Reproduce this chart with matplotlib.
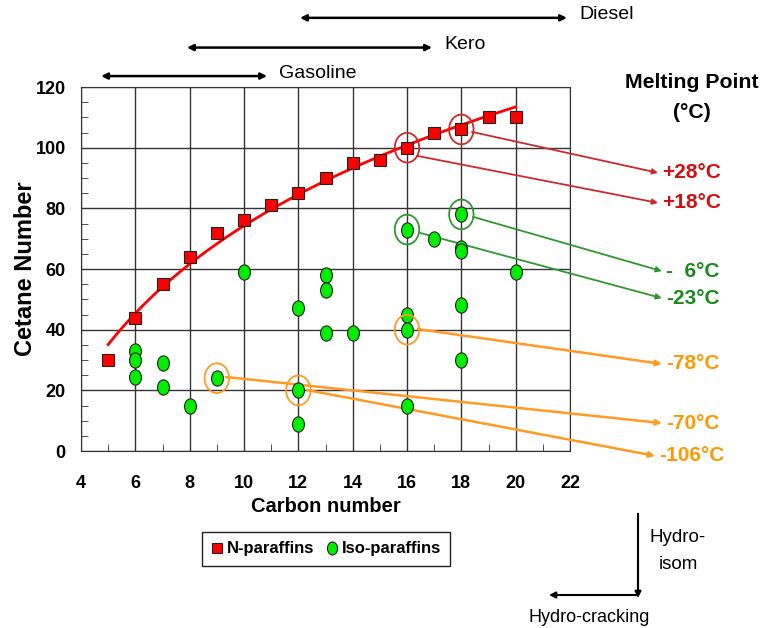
import numpy as np
import matplotlib.pyplot as plt
from matplotlib.patches import Ellipse
from matplotlib.path import Path
from matplotlib.transforms import Affine2D
from matplotlib.ticker import MultipleLocator

plt.rcParams['font.family'] = ['Liberation Sans', 'DejaVu Sans']

# N-paraffins (carbon number, cetane number)
n_carbon = [5, 6, 7, 8, 9, 10, 11, 12, 13, 14, 15, 16, 17, 18, 19, 20]
n_cetane = [30, 44, 55, 64, 72, 76, 81, 85, 90, 95, 96, 100, 105, 106, 110, 110]

# Iso-paraffins
iso_carbon = [6, 6, 6, 7, 7, 8, 9, 10, 12, 12, 12, 13, 13, 13, 14,
              16, 16, 16, 16, 17, 18, 18, 18, 18, 18, 20]
iso_cetane = [33, 30, 24.5, 29, 21, 15, 24, 59, 47, 20, 9, 58, 53, 39, 39,
              73, 45, 40, 15, 70, 78, 67, 66, 48, 30, 59]

# highlighted compounds -> melting point labels
hl_points = [(18, 106), (16, 100), (18, 78), (16, 73), (16, 40), (9, 24), (12, 20)]
hl_colors = ['#cc2a2a', '#cc2a2a', '#2e9a2e', '#2e9a2e', '#ff9a22', '#ff9a22', '#ff9a22']
mp_labels = ['+28°C', '+18°C', '-  6°C', '-23°C', '-78°C', '-70°C', '-106°C']
mp_colors = ['#d01010', '#d01010', '#1a8a1a', '#1a8a1a', '#ff9900', '#ff9900', '#ff9900']
line_start = [(18.39, 105.2), (16.37, 97.3), (18.43, 77.2), (16.48, 71.9),
              (16.40, 40.2), (9.34, 24.4), (12.32, 20.1)]
line_tip = [(25.24, 91.7), (25.24, 81.8), (25.38, 59.3), (25.38, 50.4),
            (25.38, 28.7), (25.38, 9.2), (25.13, -1.6)]

# fuel ranges (carbon number)
ranges = [('Diesel', 12.06, 21.89, 142.8), ('Kero', 7.9, 16.92, 133.0),
          ('Gasoline', 4.74, 10.85, 123.6)]

fig = plt.figure(figsize=(7.75, 6.28), dpi=100)
ax = fig.add_axes([81 / 775, 1 - 451 / 628, 489 / 775, 364 / 628])

# log trendline for n-paraffins
a, b = np.polyfit(np.log(n_carbon), n_cetane, 1)
xf = np.linspace(min(n_carbon), max(n_carbon), 100)
ax.plot(xf, a * np.log(xf) + b, color='red', lw=2, zorder=3)

ellipse_marker = Path.unit_circle().transformed(Affine2D().scale(0.78, 1.0))
ax.plot(n_carbon, n_cetane, ls='none', marker='s', ms=9, mfc='red', mec='#222222',
        mew=0.8, zorder=4, label='N-paraffins')
ax.plot(iso_carbon, iso_cetane, ls='none', marker=ellipse_marker, ms=11, mfc='#00ee00',
        mec='#222222', mew=0.8, zorder=4, label='Iso-paraffins')

for (px, py), c in zip(hl_points, hl_colors):
    ax.add_patch(Ellipse((px, py), 0.9, 9.8, fill=False, ec=c, lw=1.3, zorder=5))

for s, t, lab, c, lc in zip(line_start, line_tip, mp_labels, mp_colors, hl_colors):
    lw = 1.8 if lc == '#ff9a22' else 1.3
    ax.annotate('', xy=t, xytext=s, annotation_clip=False,
                arrowprops=dict(arrowstyle='-|>', color=lc, lw=lw, mutation_scale=8,
                                shrinkA=0, shrinkB=0))
    ax.text(t[0] + 0.15, t[1], lab, color=c, fontsize=15, fontweight='bold',
            va='center', ha='left', clip_on=False)

for name, x1, x2, yy in ranges:
    ax.annotate('', xy=(x2, yy), xytext=(x1, yy), annotation_clip=False,
                arrowprops=dict(arrowstyle='<|-|>', color='black', lw=1.8,
                                mutation_scale=9, shrinkA=0, shrinkB=0))
    ax.text(x2 + 0.45, yy + 1, name, fontsize=14, va='center', ha='left', clip_on=False)

ax.set_xlim(4, 22)
ax.set_ylim(0, 120)
ax.xaxis.set_major_locator(MultipleLocator(2))
ax.xaxis.set_minor_locator(MultipleLocator(1))
ax.yaxis.set_major_locator(MultipleLocator(20))
ax.yaxis.set_minor_locator(MultipleLocator(5))
ax.grid(True, which='major', color='#333333', lw=1)
ax.tick_params(which='both', direction='in', labelsize=13)
ax.tick_params(which='major', length=0)
ax.tick_params(which='minor', length=5, color='#333333')
ax.tick_params(axis='x', pad=17)
ax.tick_params(axis='y', pad=11)
for lbl in ax.get_xticklabels() + ax.get_yticklabels():
    lbl.set_fontweight('bold')
for sp in ax.spines.values():
    sp.set_color('#333333')
ax.set_xlabel('Carbon number', fontsize=14.5, fontweight='bold', labelpad=4)
ax.set_ylabel('Cetane Number', fontsize=17, fontweight='bold', labelpad=-1)

fig.text(692 / 775, 1 - 82 / 628, 'Melting Point', fontsize=15.3, fontweight='bold',
         ha='center', va='center')
fig.text(692 / 775, 1 - 113 / 628, '(°C)', fontsize=15.3, fontweight='bold',
         ha='center', va='center')

leg = fig.legend(loc='center', bbox_to_anchor=(326 / 775, 1 - 549 / 628), ncol=2,
                 fancybox=False, edgecolor='#222222', framealpha=1, handlelength=0.7,
                 handletextpad=0.25, columnspacing=0.7, borderpad=0.55,
                 markerscale=0.85, prop={'weight': 'bold', 'size': 12})
leg.get_frame().set_linewidth(1.0)

# process arrows
fig.add_artist(plt.Line2D([638 / 775, 638 / 775], [1 - 514 / 628, 1 - 590 / 628],
                          color='black', lw=1.5))
ax.annotate('', xy=(638, 628 - 598), xytext=(638, 628 - 560), xycoords='figure pixels',
            textcoords='figure pixels', arrowprops=dict(arrowstyle='-|>', color='black',
                                                        lw=1.5, mutation_scale=9, shrinkA=0, shrinkB=0))
ax.annotate('', xy=(549, 628 - 595), xytext=(638, 628 - 595), xycoords='figure pixels',
            textcoords='figure pixels', arrowprops=dict(arrowstyle='-|>', color='black',
                                                        lw=1.5, mutation_scale=9, shrinkA=0, shrinkB=0))
fig.text(678 / 775, 1 - 551 / 628, 'Hydro-\nisom', fontsize=13.5, ha='center', va='center',
         linespacing=1.7)
fig.text(589 / 775, 1 - 618 / 628, 'Hydro-cracking', fontsize=13, ha='center', va='center')

fig.savefig('out.png', dpi=100)
